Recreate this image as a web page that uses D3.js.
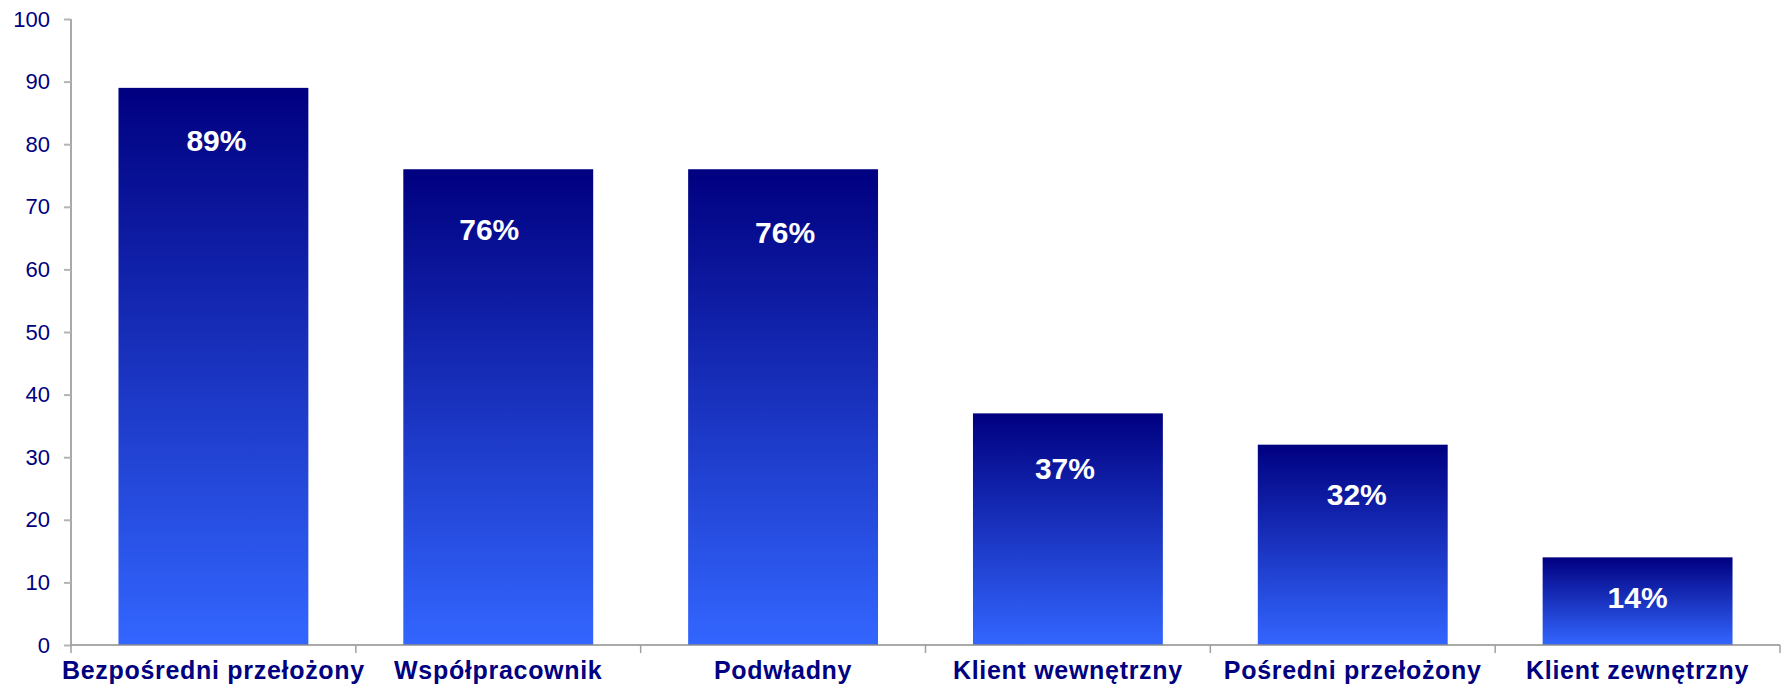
<!DOCTYPE html>
<html>
<head>
<meta charset="utf-8">
<script src="https://cdn.jsdelivr.net/npm/d3@7"></script>
<style>
  html, body { margin: 0; padding: 0; background: #ffffff; }
  svg { display: block; }
</style>
</head>
<body>
<svg id="chart" width="1785" height="687"></svg>
<script>
// Category names along the x axis
const categories = [
  "Bezpośredni przełożony",
  "Współpracownik",
  "Podwładny",
  "Klient wewnętrzny",
  "Pośredni przełożony",
  "Klient zewnętrzny"
];
// Percentage per category
const values = [89, 76, 76, 37, 32, 14];
// Y axis ticks
const yTicks = [0, 10, 20, 30, 40, 50, 60, 70, 80, 90, 100];

// Hand-placed value label nudges (px from the bar top / bar centre)
const labelDy = [53, 60, 63, 55, 50, 40];
const labelDx = [3, -9, 2, -3, 4, 0];

const W = 1785, H = 687;
const margin = { left: 71, right: 5, top: 19, bottom: 42 };
const svg = d3.select("#chart");

const x = d3.scaleBand()
  .domain(categories)
  .range([margin.left, W - margin.right])
  .paddingInner(0)
  .paddingOuter(0);

const y = d3.scaleLinear()
  .domain([0, 100])
  .range([H - margin.bottom, margin.top]);

const navy = "#000080";
const barW = x.bandwidth() * 2 / 3;

// Vertical gradient used by each bar
const defs = svg.append("defs");
const grad = defs.append("linearGradient")
  .attr("id", "barGrad")
  .attr("x1", 0).attr("y1", 0).attr("x2", 0).attr("y2", 1);
grad.append("stop").attr("offset", "0%").attr("stop-color", "#000080");
grad.append("stop").attr("offset", "100%").attr("stop-color", "#3366ff");

// Bars
svg.append("g").selectAll("rect")
  .data(values)
  .join("rect")
  .attr("x", (d, i) => x(categories[i]) + (x.bandwidth() - barW) / 2)
  .attr("y", d => y(d))
  .attr("width", barW)
  .attr("height", d => y(0) - y(d))
  .attr("fill", "url(#barGrad)");

// Y axis
const yAxis = d3.axisLeft(y).tickValues(yTicks).tickSize(7).tickPadding(14);
const gy = svg.append("g")
  .attr("transform", `translate(${margin.left},0)`)
  .call(yAxis);
gy.select(".domain").attr("stroke", "#8c8c8c").attr("stroke-width", 1.5)
  .attr("d", `M0,${y(100)}V${y(0)}`);
gy.selectAll(".tick line").attr("stroke", "#b4b4b4").attr("stroke-width", 2);
gy.selectAll(".tick text")
  .attr("fill", navy)
  .attr("font-family", "'Liberation Sans', Arial, sans-serif")
  .attr("font-size", 22);

// X axis
const xAxis = d3.axisBottom(x).tickSize(0).tickPadding(0).tickFormat(() => "");
const gx = svg.append("g")
  .attr("transform", `translate(0,${y(0)})`)
  .call(xAxis);
gx.select(".domain").attr("stroke", "#8c8c8c").attr("stroke-width", 1.5)
  .attr("d", `M${margin.left},0H${W - margin.right}`);

// Category separator ticks
const sepPositions = categories.map(c => x(c)).concat([x(categories[categories.length - 1]) + x.bandwidth()]);
gx.append("g").selectAll("line")
  .data(sepPositions)
  .join("line")
  .attr("x1", d => d).attr("x2", d => d)
  .attr("y1", 0).attr("y2", 8)
  .attr("stroke", "#a0a0a0").attr("stroke-width", 1.5);

// Category labels
gx.append("g").selectAll("text")
  .data(categories)
  .join("text")
  .attr("x", d => x(d) + x.bandwidth() / 2)
  .attr("y", 34)
  .attr("text-anchor", "middle")
  .attr("fill", navy)
  .attr("font-family", "'Liberation Sans', Arial, sans-serif")
  .attr("font-weight", "bold")
  .attr("font-size", 25)
  .attr("letter-spacing", 0.7)
  .text(d => d);

// Value labels inside bars
svg.append("g").selectAll("text")
  .data(values)
  .join("text")
  .attr("x", (d, i) => x(categories[i]) + x.bandwidth() / 2 + labelDx[i])
  .attr("y", (d, i) => y(d) + labelDy[i])
  .attr("dy", "0.35em")
  .attr("text-anchor", "middle")
  .attr("fill", "#ffffff")
  .attr("font-family", "'Liberation Sans', Arial, sans-serif")
  .attr("font-weight", "bold")
  .attr("font-size", 30)
  .text(d => d + "%");
</script>
</body>
</html>
